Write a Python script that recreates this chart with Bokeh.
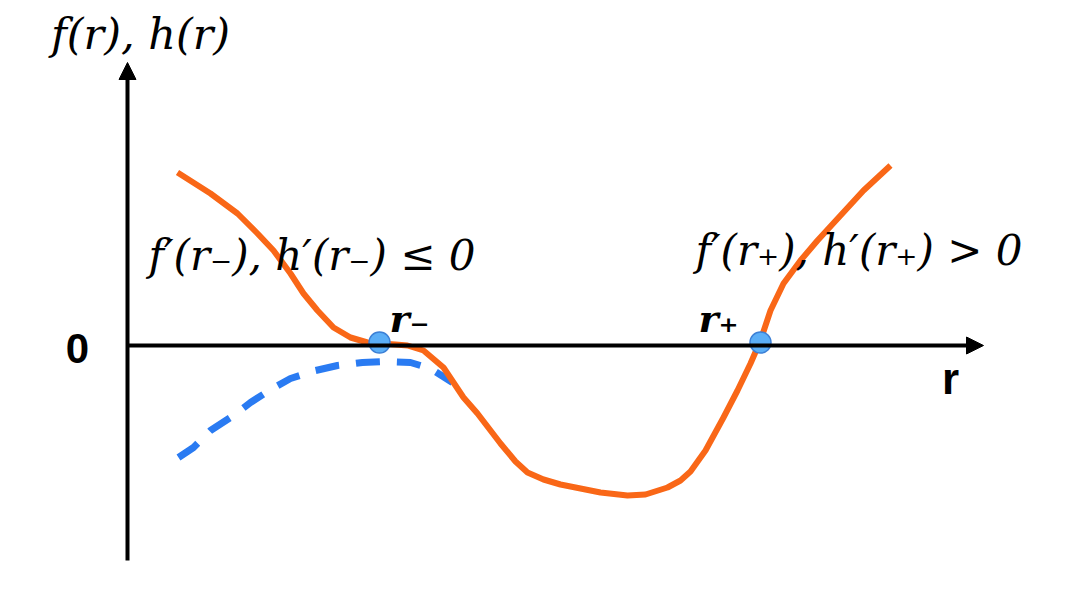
from bokeh.plotting import figure
from bokeh.models import Range1d, Arrow, NormalHead
from bokeh.core.properties import value
from bokeh.embed import file_html
from bokeh.resources import INLINE

# orange curve f(r) (schematic, picture coordinates)
f_x = [177, 210, 237, 257, 273, 290, 303, 317, 333, 350, 367, 380, 395, 407, 423, 443, 463, 477, 500, 515, 527, 543, 560, 580, 600, 627, 645, 667, 680, 690, 705, 723, 737, 750, 760, 770, 783, 800, 817, 840, 863, 890]
f_y = [172, 193, 213, 233, 250, 273, 293, 310, 327, 337, 342, 343, 344, 345, 350, 367, 397, 413, 443, 461, 472, 479, 484, 488, 492, 495, 494, 487, 480, 471, 450, 417, 390, 363, 340, 310, 283, 260, 240, 215, 190, 165]

# blue dashed curve h(r)
h_x = [178, 193, 210, 233, 250, 272, 290, 315, 337, 362, 383, 410, 430, 452]
h_y = [457, 447, 430, 415, 402, 388, 378, 370, 365, 362, 361, 362, 368, 382]

# marked roots
root_x = [379, 760]
root_y = [342, 342]
root_labels = ["r₋", "r₊"]

W, H = 1074, 597
p = figure(width=W, height=H, x_range=Range1d(0, W), y_range=Range1d(H, 0),
           output_backend="svg", toolbar_location=None, min_border=0)
p.axis.visible = False
p.grid.visible = False
p.outline_line_color = None
p.background_fill_color = "white"

# axes arrows
p.add_layout(Arrow(x_start=127, y_start=560, x_end=127, y_end=62, line_width=4, line_color="black",
                   end=NormalHead(size=17, fill_color="black", line_color="black")))
p.add_layout(Arrow(x_start=127, y_start=345, x_end=983, y_end=345, line_width=4, line_color="black",
                   end=NormalHead(size=17, fill_color="black", line_color="black")))

p.line(h_x, h_y, line_color="#2A7BF2", line_width=7, line_dash="24 17")
p.line(f_x, f_y, line_color="#F96717", line_width=6, line_join="round")
p.scatter(root_x, root_y, size=21, fill_color="#5BAEF6", line_color="#3C80D6", line_width=1.5)

serif = value("DejaVu Serif")
p.text(x=[140], y=[33], text=["f(r), h(r)"], text_font=serif, text_font_style="italic",
       text_font_size="43px", text_align="center", text_baseline="middle", text_color="black")
p.text(x=[148], y=[255], text=["f′(r₋), h′(r₋) ≤ 0"], text_font=serif, text_font_style="italic",
       text_font_size="42px", text_align="left", text_baseline="middle", text_color="black")
p.text(x=[695], y=[250], text=["f′(r₊), h′(r₊) > 0"], text_font=serif, text_font_style="italic",
       text_font_size="42px", text_align="left", text_baseline="middle", text_color="black")
p.text(x=[389, 698], y=[318, 318], text=root_labels, text_font=serif, text_font_style="bold italic",
       text_font_size="38px", text_align="left", text_baseline="middle", text_color="black")
sans = value("Liberation Sans")
p.text(x=[77], y=[348], text=["0"], text_font=sans, text_font_style="bold",
       text_font_size="42px", text_align="center", text_baseline="middle", text_color="black")
p.text(x=[950], y=[378], text=["r"], text_font=sans, text_font_style="bold",
       text_font_size="44px", text_align="center", text_baseline="middle", text_color="black")

open("out.html", "w").write(file_html(p, INLINE))
